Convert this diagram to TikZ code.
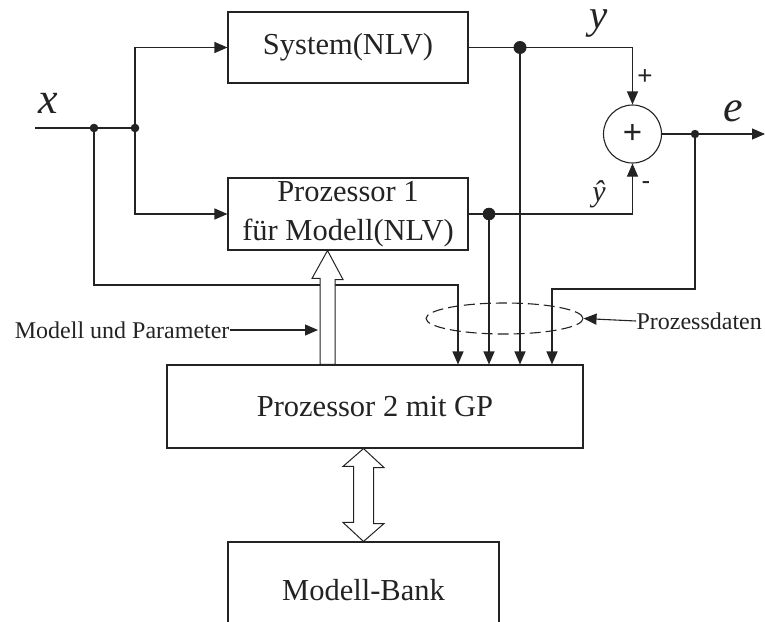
\documentclass[tikz,border=0pt]{standalone}
\usepackage{fontspec}
\setmainfont{Liberation Serif}
\newfontfamily\signfont{Liberation Sans}
\usetikzlibrary{arrows.meta,calc,shapes.geometric}
\definecolor{linie}{RGB}{35,35,35}

\tikzset{
  block/.style={draw=linie, line width=1.1pt, inner sep=0pt, align=center,
    font=\fontsize{30.5}{39}\selectfont},
  lbl/.style={inner sep=0pt, font=\fontsize{24}{28}\selectfont},
  sig/.style={inner sep=0pt, font=\fontsize{44}{44}\selectfont\itshape},
  pm/.style={inner sep=0pt, font=\signfont\fontsize{26}{26}\selectfont},
  tri/.style={-{Triangle[length=13pt,width=11pt]}},
  hollow/.style={draw=linie, line width=1pt, fill=white, line join=miter},
}

\begin{document}
\begin{tikzpicture}[x=1pt, y=-1pt, linie, line width=1.1pt]
    \useasboundingbox (0,0) rectangle (765,621);
    \clip (0,0) rectangle (765,621);

    % Bloecke
    \node[block, minimum width=240, minimum height=71] (sys) at (348,47.5) {System(NLV)};
    \node[block, minimum width=240, minimum height=72] (proz1) at (348,214) {Prozessor 1\\f\"ur Modell(NLV)};
    \node[block, minimum width=416, minimum height=83] (proz2) at (375,406.5) {Prozessor 2 mit GP};
    \node[block, minimum width=271, minimum height=96] (bank) at (363.5,590) {Modell-Bank};
    \node[draw=linie, circle, minimum size=58, inner sep=0pt,
      font=\signfont\fontsize{33}{33}\selectfont] (sum) at (632.5,134) {+};
    \node[draw=linie, dashed, dash pattern=on 11pt off 5pt, ellipse,
      minimum width=157, minimum height=31] (pd) at (504.5,318.5) {};

    % Knoten und Enden
    \coordinate (xin) at (35,128);
    \coordinate (jx1) at (94,128);
    \coordinate (jx2) at (135,128);
    \coordinate (jy) at (520,47.5);
    \coordinate (jyh) at (489,214);
    \coordinate (je) at (695,134);
    \coordinate (eout) at (765,134);
    \coordinate (cx) at (458,285);
    \coordinate (ce) at (552,289);
    \coordinate (mupend) at (318,330);

    % Signalwege
    \draw (xin) -- (jx1) -- (jx2);
    \draw[tri] (jx2) |- (sys.west);
    \draw[tri] (jx2) |- (proz1.west);
    \draw[tri] (sys.east) -| (sum.north);
    \draw[tri] (proz1.east) -| (sum.south);
    \draw[tri] (sum.east) -- (eout);
    \draw[tri] (jx1) |- (cx) -- (cx |- proz2.north);
    \draw[tri] (jyh) -- (jyh |- proz2.north);
    \draw[tri] (jy) -- (jy |- proz2.north);
    \draw[tri] (je) |- (ce) -- (ce |- proz2.north);

    \fill (jx1) circle (4.3);
    \fill (jx2) circle (4.3);
    \fill (jy) circle (6.5);
    \fill (jyh) circle (6.3);
    \fill (je) circle (4.2);

    % Hohlpfeile
    \coordinate (mtip) at ($(proz1.south)+(-20.5,0)$);
    \draw[hollow] (mtip) -- ++(15.5,29) -- ++(-8,0) |- ($(mtip |- proz2.north)+(-7.5,0)$)
      -- ++(0,-86) -- ++(-8,0) -- cycle;
    \coordinate (btop) at (bank.north |- proz2.south);
    \draw[hollow] (btop) -- ++(20.5,19) -- ++(-10.5,0) -- ++(0,56) -- ++(10.5,0)
      -- (bank.north) -- ++(-20.5,-19) -- ++(10.5,0) -- ++(0,-56) -- ++(-10.5,0) -- cycle;

    % Beschriftungen
    \node[sig] (lx) at (48,103) {x};
    \node[sig, font=\fontsize{41}{41}\selectfont\itshape] (ly) at (599,24) {y};
    \node[sig] (le) at (733,111) {e};
    \node[sig, font=\fontsize{30}{30}\selectfont\itshape] (lyh) at (599,194) {\^{y}};
    \node[pm] (plus) at (645,77) {+};
    \node[pm] (minus) at (646,186) {-};

    \node[lbl, anchor=east] (mup) at (230,330) {Modell und Parameter};
    \draw[tri] (mup.east) -- (mupend);
    \node[lbl, anchor=west] (pdl) at (636,321) {Prozessdaten};
    \draw[tri] (pdl.west) -- (pd.east);

\end{tikzpicture}
\end{document}
